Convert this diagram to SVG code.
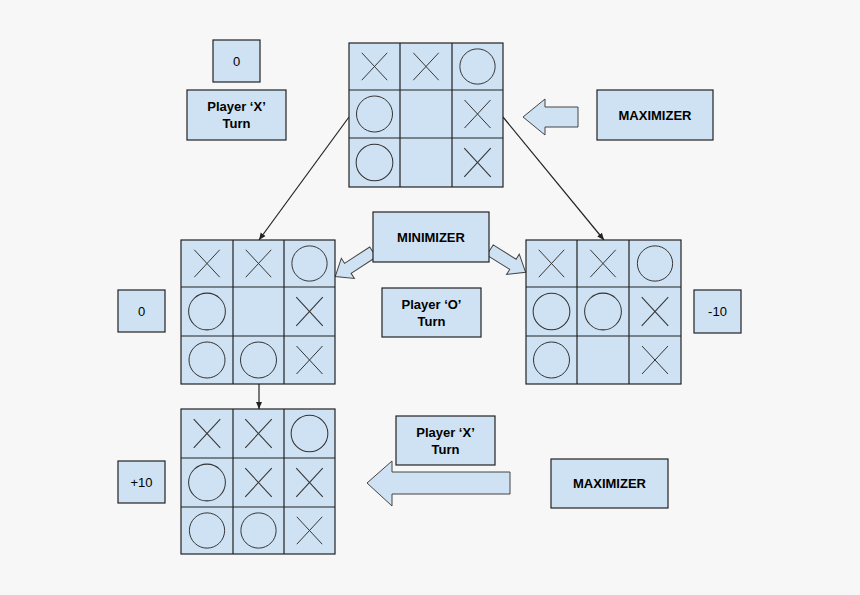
<svg xmlns="http://www.w3.org/2000/svg" width="860" height="595" viewBox="0 0 860 595">
<defs>
<style>
.b{fill:#cfe2f3;stroke:#222;stroke-width:1.2}
.g{stroke:#222;stroke-width:1.2;fill:none}
.x{stroke:#333;stroke-width:1}
.o{fill:none;stroke:#333;stroke-width:1}
.t{font-family:"Liberation Sans",Arial,sans-serif;font-size:13px;font-weight:bold;fill:#000;text-anchor:middle}
.n{font-family:"Liberation Sans",Arial,sans-serif;font-size:13px;fill:#000;text-anchor:middle}
.ar{fill:#cfe2f3;stroke:#444;stroke-width:1}
</style>
<marker id="m" markerWidth="8" markerHeight="8" refX="7" refY="4" orient="auto" markerUnits="userSpaceOnUse"><path d="M0,1 L7,4 L0,7 z" fill="#222"/></marker>
<symbol id="X" viewBox="0 0 50 48"><line class="x" x1="12" y1="10" x2="38" y2="38"/><line class="x" x1="38" y1="10" x2="12" y2="38"/></symbol>
<symbol id="O" viewBox="0 0 50 48"><circle class="o" cx="25" cy="24" r="18"/></symbol>
</defs>
<rect width="860" height="595" fill="#f7f7f7"/>
<g id="connectors">
<line class="g" x1="349" y1="117" x2="259" y2="240" marker-end="url(#m)" stroke-width="0.8"/>
<line class="g" x1="503" y1="117" x2="604" y2="240" marker-end="url(#m)" stroke-width="0.8"/>
<line class="g" x1="259" y1="384" x2="259" y2="409" marker-end="url(#m)" stroke-width="0.8"/>
<polygon class="ar" points="578,107 545,107 545,99 523,117 545,135 545,127 578,127"/>
<polygon class="ar" points="510,472 392,472 392,461 367,483 392,506 392,494 510,494"/>
<polygon class="ar" transform="translate(373,252) rotate(147)" points="0,-6 30,-6 30,-12 45,0 30,12 30,6 0,6"/>
<polygon class="ar" transform="translate(490,250) rotate(32)" points="0,-6 27,-6 27,-12 42,0 27,12 27,6 0,6"/>
</g>
<g id="board-top">
<rect class="b" x="349" y="43" width="154" height="144"/>
<path class="g" d="M400,43V187M452,43V187M349,90H503M349,138H503"/>
<use href="#X" x="349" y="43" width="51" height="47"/><use href="#X" x="400" y="43" width="52" height="47"/><use href="#O" x="452" y="43" width="51" height="47"/>
<use href="#O" x="349" y="90" width="51" height="48"/><use href="#X" x="452" y="90" width="51" height="48"/>
<use href="#O" x="349" y="138" width="51" height="49"/><use href="#X" x="452" y="138" width="51" height="49"/>
</g>
<g id="board-left">
<rect class="b" x="181" y="240" width="154" height="144"/>
<path class="g" d="M233,240V384M284,240V384M181,287H335M181,336H335"/>
<use href="#X" x="181" y="240" width="52" height="47"/><use href="#X" x="233" y="240" width="51" height="47"/><use href="#O" x="284" y="240" width="51" height="47"/>
<use href="#O" x="181" y="287" width="52" height="49"/><use href="#X" x="284" y="287" width="51" height="49"/>
<use href="#O" x="181" y="336" width="52" height="48"/><use href="#O" x="233" y="336" width="51" height="48"/><use href="#X" x="284" y="336" width="51" height="48"/>
</g>
<g id="board-right">
<rect class="b" x="526" y="240" width="155" height="144"/>
<path class="g" d="M577,240V384M629,240V384M526,287H681M526,336H681"/>
<use href="#X" x="526" y="240" width="51" height="47"/><use href="#X" x="577" y="240" width="52" height="47"/><use href="#O" x="629" y="240" width="52" height="47"/>
<use href="#O" x="526" y="287" width="51" height="49"/><use href="#O" x="577" y="287" width="52" height="49"/><use href="#X" x="629" y="287" width="52" height="49"/>
<use href="#O" x="526" y="336" width="51" height="48"/><use href="#X" x="629" y="336" width="52" height="48"/>
</g>
<g id="board-bottom">
<rect class="b" x="181" y="409" width="154" height="145"/>
<path class="g" d="M233,409V554M284,409V554M181,458H335M181,507H335"/>
<use href="#X" x="181" y="409" width="52" height="49"/><use href="#X" x="233" y="409" width="51" height="49"/><use href="#O" x="284" y="409" width="51" height="49"/>
<use href="#O" x="181" y="458" width="52" height="49"/><use href="#X" x="233" y="458" width="51" height="49"/><use href="#X" x="284" y="458" width="51" height="49"/>
<use href="#O" x="181" y="507" width="52" height="47"/><use href="#O" x="233" y="507" width="51" height="47"/><use href="#X" x="284" y="507" width="51" height="47"/>
</g>
<g id="score-top"><rect class="b" x="213" y="40" width="47" height="42"/><text class="n" x="236.5" y="66">0</text></g>
<g id="turn-x-top"><rect class="b" x="187" y="90" width="99" height="50"/><text class="t" x="236.5" y="111">Player ‘X’</text><text class="t" x="236.5" y="128">Turn</text></g>
<g id="max-top"><rect class="b" x="597" y="90" width="116" height="50"/><text class="t" x="655" y="120">MAXIMIZER</text></g>
<g id="min"><rect class="b" x="373" y="212" width="116" height="50"/><text class="t" x="431" y="242">MINIMIZER</text></g>
<g id="turn-o"><rect class="b" x="382" y="288" width="99" height="49"/><text class="t" x="431.5" y="309">Player ‘O’</text><text class="t" x="431.5" y="326">Turn</text></g>
<g id="score-left"><rect class="b" x="118" y="290" width="47" height="42"/><text class="n" x="141.5" y="316">0</text></g>
<g id="score-right"><rect class="b" x="694" y="290" width="47" height="43"/><text class="n" x="717.5" y="316">-10</text></g>
<g id="score-bottom"><rect class="b" x="118" y="461" width="47" height="42"/><text class="n" x="141.5" y="487">+10</text></g>
<g id="turn-x-bottom"><rect class="b" x="396" y="416" width="99" height="49"/><text class="t" x="445.5" y="437">Player ‘X’</text><text class="t" x="445.5" y="454">Turn</text></g>
<g id="max-bottom"><rect class="b" x="551" y="459" width="117" height="49"/><text class="t" x="609.5" y="488">MAXIMIZER</text></g>
</svg>
